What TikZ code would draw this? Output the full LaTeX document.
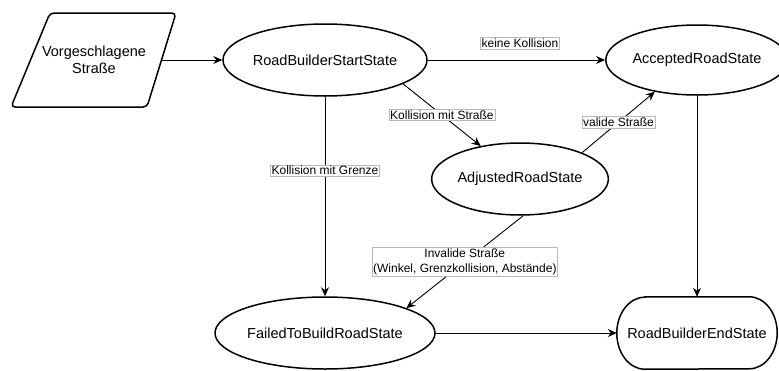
\documentclass[tikz,border=0pt]{standalone}
\usepackage{fontspec}
\setmainfont{Liberation Sans}
\usetikzlibrary{shapes.geometric,arrows.meta}
\begin{document}
\begin{tikzpicture}[x=1pt,y=-1pt,
  state/.style={ellipse,draw,line width=1.5pt,inner sep=0pt,font=\fontsize{14.5}{17.5}\selectfont},
  endstate/.style={rectangle,inner sep=0pt,font=\fontsize{14.5}{17.5}\selectfont},
  lbl/.style={fill=white,draw=gray!55,line width=0.5pt,inner sep=1.2pt,font=\fontsize{12}{15}\selectfont,align=center},
  conn/.style={line width=0.9pt,-{Stealth[length=9pt,width=8pt,inset=3pt]}}]
\useasboundingbox (0,0) rectangle (779,370);
% input parallelogram
\draw[line width=1.5pt,rounded corners=4pt] (50,13) -- (176,13) -- (147,107) -- (11,107) -- cycle;
\node[align=center,inner sep=0pt,font=\fontsize{14.5}{17.5}\selectfont] (in) at (94,60) {Vorgeschlagene\\Straße};
\coordinate (inR) at (161,60);
% states
\node[state,minimum width=204pt,minimum height=72pt] (s) at (325,60) {RoadBuilderStartState};
\node[state,minimum width=160pt,minimum height=70pt] (acc) at (697,60) {AcceptedRoadState};
\node[state,minimum width=160pt,minimum height=72pt] (adj) at (520,179) {AdjustedRoadState};
\node[state,minimum width=204pt,minimum height=72pt] (fail) at (325,333) {FailedToBuildRoadState};
\node[endstate,minimum width=160pt,minimum height=72pt] (end) at (697,333) {RoadBuilderEndState};
\draw[line width=1.5pt] ([xshift=28pt]end.north west) -- ([xshift=-28pt]end.north east)
  arc[start angle=90,end angle=-90,x radius=28pt,y radius=36pt]
  -- ([xshift=28pt]end.south west)
  arc[start angle=-90,end angle=-270,x radius=28pt,y radius=36pt] -- cycle;
% connectors
\draw[conn] (inR) -- (s.west);
\draw[conn] (s.east) -- node[lbl,pos=.52,above=11pt]{keine Kollision} (acc.west);
\draw[conn] (s.south) -- node[lbl,pos=.37]{Kollision mit Grenze} (fail.north);
\draw[conn] (s.-17.7) -- node[lbl,pos=.5]{Kollision mit Straße} (adj.140.6);
\draw[conn] (adj.23.2) -- node[lbl,pos=.5]{valide Straße} (acc.217.7);
\draw[conn] (adj.-85) -- node[lbl,pos=.5]{Invalide Straße\\(Winkel, Grenzkollision, Abstände)} (fail.17.7);
\draw[conn] (acc.south) -- (end.north);
\draw[conn] (fail.east) -- (end.west);
\end{tikzpicture}
\end{document}
